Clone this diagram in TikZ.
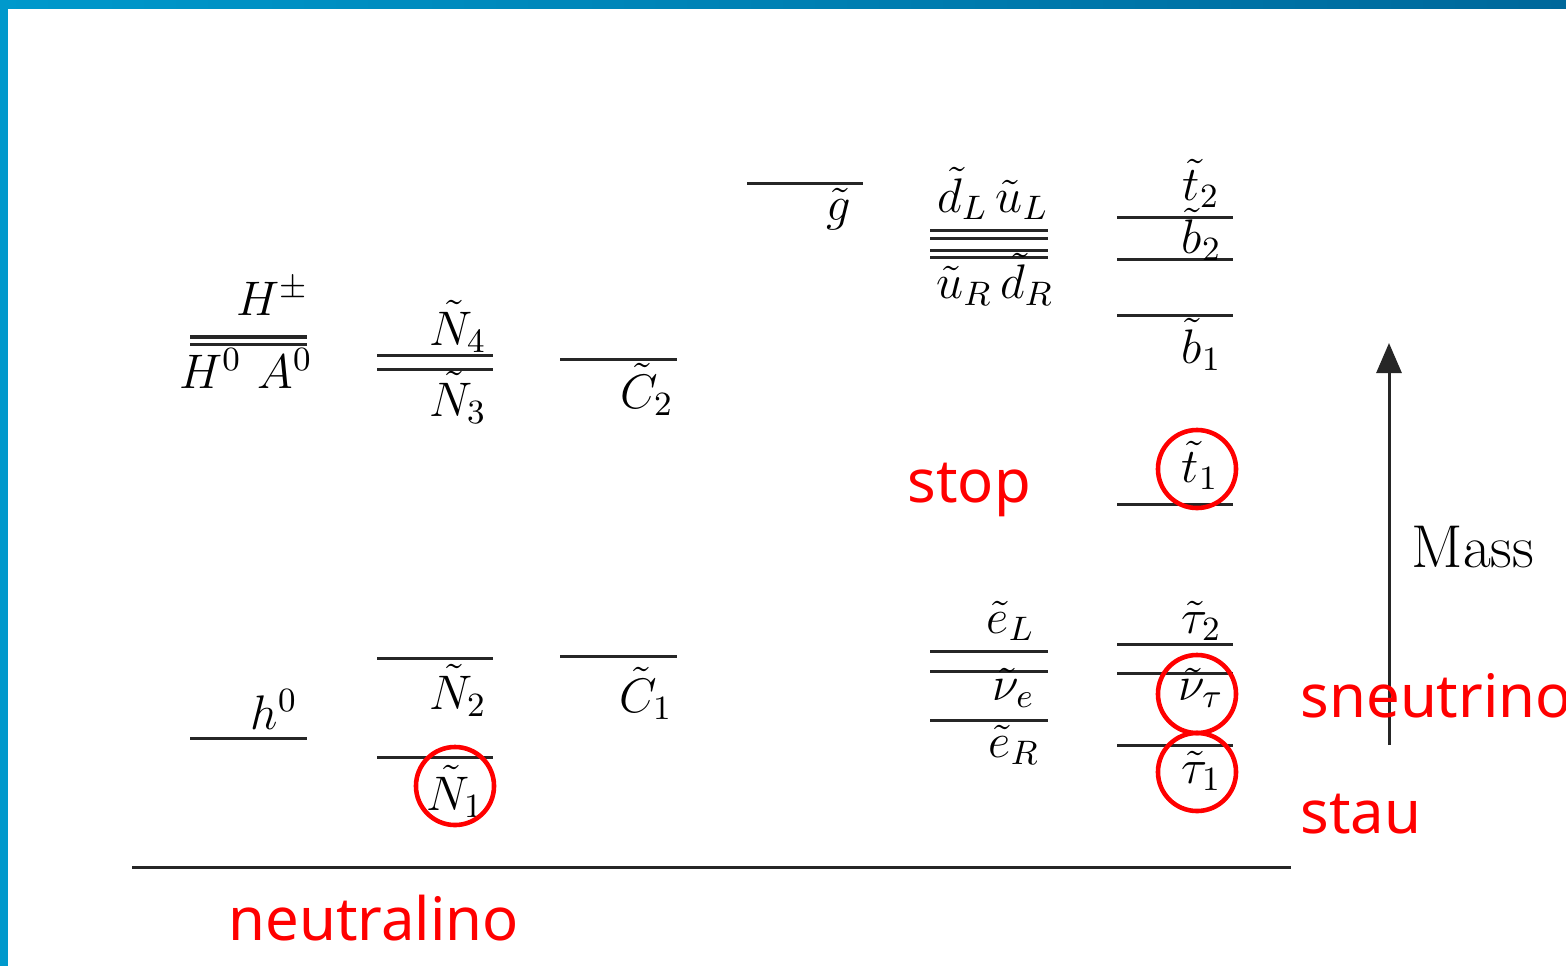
\documentclass[tikz,border=0pt]{standalone}
\usepackage{fix-cm}
\usepackage{fontspec}
\newfontfamily\fonteaviso{Noto Sans}
\usetikzlibrary{arrows.meta}
\definecolor{azul}{RGB}{0,153,204}
\definecolor{azulesc}{RGB}{0,104,155}

\begin{document}
\begin{tikzpicture}[x=0.01cm, y=-0.01cm,
nivel/.style={line width=0.85pt, black!85},
rotulo/.style={inner sep=0pt, anchor=base east, font=\fontsize{13.8}{16}\selectfont},
marca/.style={draw=red, circle, line width=1.3pt, minimum size=7.8mm, inner sep=0pt},
aviso/.style={inner sep=0pt, anchor=base west, text=red, font=\fonteaviso\fontsize{17}{20}\selectfont},
seta/.style={-{Triangle[length=3mm, width=2.5mm]}, line width=0.85pt, black!85}
]
\useasboundingbox (0,0) rectangle (1566,966);
\clip (0,0) rectangle (1566,966);

% moldura azul
\fill[azul] (0,0) rectangle (8,966);
\shade[left color=azul, right color=azulesc] (0,0) rectangle (1566,8);

% eixo inferior
\draw[nivel] (132,867) -- (1291,867);

% Higgs
\draw[nivel, line width=1.1pt] (190,337) -- (307,337);
\draw[nivel] (190,344) -- (307,344);
\node[rotulo] (hmais) at (309,315) {$H^\pm$};
\node[rotulo] (hzero) at (313,388) {$H^0\ A^0$};
\draw[nivel] (190,738) -- (307,738);
\node[rotulo] (hleve) at (298,729) {$h^0$};

% neutralinos
\draw[nivel] (377,355) -- (493,355);
\draw[nivel] (377,369) -- (493,369);
\node[rotulo] (neu4) at (487,345) {$\tilde N_4$};
\node[rotulo] (neu3) at (487,416) {$\tilde N_3$};
\draw[nivel] (377,658) -- (493,658);
\node[rotulo] (neu2) at (487,709) {$\tilde N_2$};
\draw[nivel] (377,757) -- (493,757);
\node[rotulo] (neu1) at (484,810) {$\tilde N_1$};

% charginos
\draw[nivel] (560,359) -- (677,359);
\node[rotulo] (cha2) at (674,408) {$\tilde C_2$};
\draw[nivel] (560,656) -- (677,656);
\node[rotulo] (cha1) at (673,712) {$\tilde C_1$};

% gluino
\draw[nivel] (747,183) -- (863,183);
\node[rotulo] (glu) at (852,220) {$\tilde g$};

% squarks leves
\draw[nivel] (930,230) -- (1048,230);
\draw[nivel] (930,238) -- (1048,238);
\draw[nivel] (930,250) -- (1048,250);
\draw[nivel] (930,257) -- (1048,257);
\node[rotulo] (sqL) at (1049,212) {$\tilde d_L\,\tilde u_L$};
\node[rotulo] (sqR) at (1054,298) {$\tilde u_R\,\tilde d_R$};

% sleptons leves
\draw[nivel] (930,651) -- (1048,651);
\draw[nivel] (930,671) -- (1048,671);
\draw[nivel] (930,720) -- (1048,720);
\node[rotulo] (selL) at (1035,633) {$\tilde e_L$};
\node[rotulo] (snue) at (1035,700) {$\tilde\nu_e$};
\node[rotulo] (selR) at (1040,757) {$\tilde e_R$};

% terceira geracao
\draw[nivel] (1117,217) -- (1233,217);
\draw[nivel] (1117,259) -- (1233,259);
\draw[nivel] (1117,315) -- (1233,315);
\draw[nivel] (1117,504) -- (1233,504);
\draw[nivel] (1117,644) -- (1233,644);
\draw[nivel] (1117,673) -- (1233,673);
\draw[nivel] (1117,745) -- (1233,745);
\node[rotulo] (stop2) at (1220,200) {$\tilde t_2$};
\node[rotulo] (sbot2) at (1222,253) {$\tilde b_2$};
\node[rotulo] (sbot1) at (1222,363) {$\tilde b_1$};
\node[rotulo] (stop1) at (1219,482) {$\tilde t_1$};
\node[rotulo] (stau2) at (1222,633) {$\tilde\tau_2$};
\node[rotulo] (snut) at (1224,700) {$\tilde\nu_\tau$};
\node[rotulo] (stau1) at (1222,783) {$\tilde\tau_1$};

% eixo de massa
\coordinate (eixob) at (1389,745);
\coordinate (eixot) at (1389,343);
\draw[seta] (eixob) -- (eixot);
\node[inner sep=0pt, anchor=base, font=\fontsize{17.2}{20}\selectfont] (massa) at (1473,567) {Mass};

% destaques
\node[marca] (cneu1) at (455,786) {};
\node[marca] (cstop1) at (1197,469) {};
\node[marca] (csnut) at (1197,694) {};
\node[marca] (cstau1) at (1197,772) {};
\node[aviso] (tstop) at (907,502) {stop};
\node[aviso] (tsnu) at (1300,717) {sneutrino};
\node[aviso] (tstau) at (1300,833) {stau};
\node[aviso] (tneu) at (228,940) {neutralino};
\end{tikzpicture}
\end{document}
